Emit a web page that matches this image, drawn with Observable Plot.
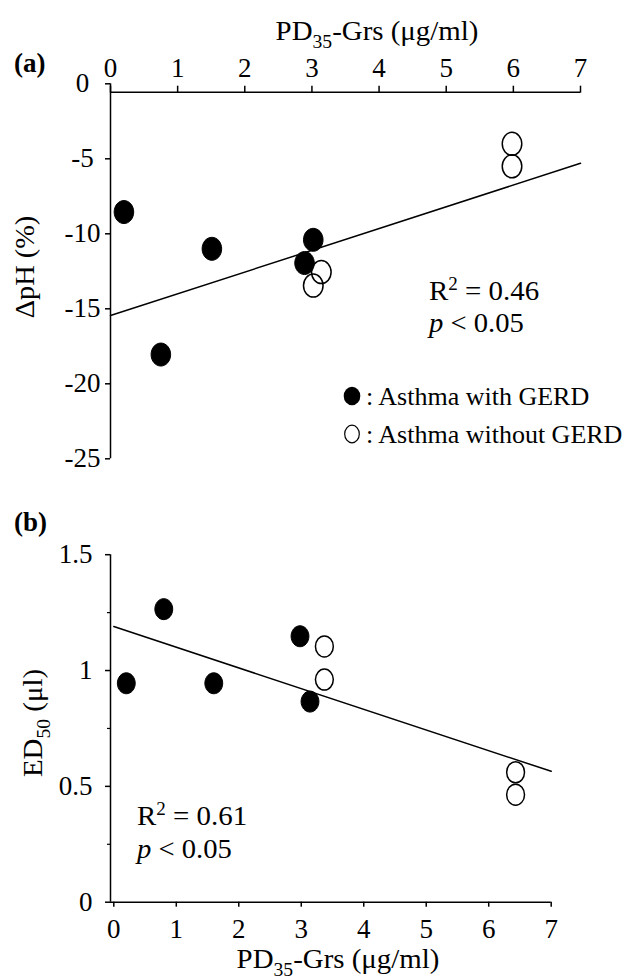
<!DOCTYPE html>
<html><head><meta charset="utf-8">
<script src="https://cdn.jsdelivr.net/npm/d3@7"></script>
<script src="https://cdn.jsdelivr.net/npm/@observablehq/plot@0.6"></script>
<style>
html,body{margin:0;padding:0;background:#fff;}
#chart{width:627px;height:978px;}
#chart svg{display:block;}
</style></head><body><div id="chart"></div>
<script>
// ---------- data ----------
const xTicks = [0, 1, 2, 3, 4, 5, 6, 7];
// Panel (a): ΔpH (%) vs PD35-Grs
const aWithX = [0.2, 0.75, 1.51, 2.89, 3.02];
const aWithY = [-8.55, -18.05, -11.0, -11.95, -10.4];
const aWithoutX = [3.02, 3.14, 5.98, 5.98];
const aWithoutY = [-13.45, -12.55, -5.5, -4.0];
const aFitX = [0, 7];
const aFitY = [-15.45, -5.3];
const aYTicks = [0, -5, -10, -15, -20, -25];
const aStats = ["0.46", "0.05"];
// Panel (b): ED50 (µl) vs PD35-Grs
const bWithX = [0.2, 0.8, 1.6, 2.98, 3.14];
const bWithY = [0.945, 1.265, 0.945, 1.148, 0.866];
const bWithoutX = [3.37, 3.37, 6.43, 6.43];
const bWithoutY = [1.104, 0.961, 0.561, 0.464];
const bFitX = [0, 7];
const bFitY = [1.19, 0.565];
const bYTicks = [0, 0.5, 1, 1.5];
const bYMinorTicks = [0.25, 0.75, 1.25];
const bStats = ["0.61", "0.05"];
const legendLabels = [": Asthma with GERD", ": Asthma without GERD"];

// ---------- helpers ----------
const FONT = "'Liberation Serif','Times New Roman',serif";
const pts = (xs, ys) => xs.map((x, i) => ({x, y: ys[i]}));
const fmt = d => String(d);
// vertically elongated ellipse symbol
const ellipse = {
  draw(ctx, size) {
    const r = Math.sqrt(size / Math.PI), rx = r * 0.85, ry = r;
    const kx = rx * 0.5523, ky = ry * 0.5523;
    ctx.moveTo(rx, 0);
    ctx.bezierCurveTo(rx, ky, kx, ry, 0, ry);
    ctx.bezierCurveTo(-kx, ry, -rx, ky, -rx, 0);
    ctx.bezierCurveTo(-rx, -ky, -kx, -ry, 0, -ry);
    ctx.bezierCurveTo(kx, -ry, rx, -ky, rx, 0);
    ctx.closePath();
  }
};
function richText(svg, {x, y, rotate = 0, anchor = "start", size = 27, weight = "normal", sx = 1, parts}) {
  const t = d3.select(svg).append("text")
    .attr("transform", `translate(${x},${y}) rotate(${rotate}) scale(${sx},1)`)
    .attr("text-anchor", anchor).attr("font-family", FONT)
    .attr("font-size", size).attr("font-weight", weight).attr("fill", "#000");
  let shift = 0;
  for (const [s, kind] of parts) {
    const ts = t.append("tspan").text(s);
    let target = 0;
    if (kind === "sub") { ts.attr("font-size", size * 0.68); target = size * 0.28; }
    else if (kind === "sup") { ts.attr("font-size", size * 0.66); target = -size * 0.36; }
    else if (kind === "italic") { ts.attr("font-style", "italic"); }
    if (target !== shift) { ts.attr("dy", target - shift); shift = target; }
  }
  return t;
}
const style = {fontFamily: FONT, fontSize: "27px", color: "black", background: "white", overflow: "visible"};

// ---------- panel (a) ----------
const plotA = Plot.plot({
  width: 627, height: 490,
  marginLeft: 110, marginRight: 47, marginTop: 83.3, marginBottom: 31.7,
  x: {domain: [0, 7]}, y: {domain: [-25, 0]},
  style,
  marks: [
    Plot.ruleY([0], {dy: 8.4, strokeWidth: 1.5}),
    Plot.ruleX([0], {strokeWidth: 1.5}),
    Plot.axisX({anchor: "top", ticks: xTicks, tickSize: 7, tickPadding: 8.5, dy: 8.4, tickFormat: fmt, label: null, strokeWidth: 1.5}),
    Plot.axisY({anchor: "left", ticks: aYTicks, tickSize: 5, tickPadding: 23, textAnchor: "middle", tickFormat: fmt, label: null, strokeWidth: 1.5}),
    Plot.line(pts(aFitX, aFitY), {x: "x", y: "y", stroke: "black", strokeWidth: 1.5}),
    Plot.dot(pts(aWithX, aWithY), {x: "x", y: "y", r: 11.5, symbol: ellipse, fill: "black", stroke: "black", strokeWidth: 1}),
    Plot.dot(pts(aWithoutX, aWithoutY), {x: "x", y: "y", r: 11.5, symbol: ellipse, fill: "none", stroke: "black", strokeWidth: 1.5})
  ]
});
document.getElementById("chart").append(plotA);
richText(plotA, {x: 14, y: 72, size: 27, weight: "bold", parts: [["(a)"]]});
richText(plotA, {x: 377, y: 40, sx: 1.07, anchor: "middle", parts: [["PD"], ["35", "sub"], ["-Grs (μg/ml)"]]});
richText(plotA, {x: 34, y: 267, sx: 1.05, anchor: "middle", rotate: -90, parts: [["ΔpH (%)"]]});
richText(plotA, {x: 429, y: 300, sx: 1.07, parts: [["R"], ["2", "sup"], [" = " + aStats[0]]]});
richText(plotA, {x: 429, y: 332, sx: 1.06, parts: [["p", "italic"], [" < " + aStats[1]]]});
// legend
const lg = d3.select(plotA);
lg.append("ellipse").attr("cx", 352).attr("cy", 396).attr("rx", 8.3).attr("ry", 9.3).attr("fill", "black");
lg.append("ellipse").attr("cx", 352).attr("cy", 434).attr("rx", 7.3).attr("ry", 8.8).attr("fill", "none").attr("stroke", "black").attr("stroke-width", 1.2);
richText(plotA, {x: 366, y: 405, size: 26, parts: [[legendLabels[0]]]});
richText(plotA, {x: 366, y: 443, size: 26, parts: [[legendLabels[1]]]});

// ---------- panel (b) ----------
const plotB = Plot.plot({
  width: 627, height: 488,
  marginLeft: 113.3, marginRight: 76.3, marginTop: 64.2, marginBottom: 76.3,
  x: {domain: [0, 7]}, y: {domain: [0, 1.5]},
  style,
  marks: [
    Plot.ruleY([0], {insetLeft: -3.3, strokeWidth: 1.5}),
    Plot.ruleX([0], {dx: -3.3, strokeWidth: 1.5}),
    Plot.axisX({anchor: "bottom", ticks: xTicks, tickSize: 5, tickPadding: 12, tickFormat: fmt, label: null, strokeWidth: 1.5}),
    Plot.axisY({anchor: "left", ticks: bYTicks, tickSize: 5, tickPadding: 13, dx: -3.3, tickFormat: fmt, label: null, strokeWidth: 1.5}),
    Plot.axisY({anchor: "left", ticks: bYMinorTicks, tickSize: 3, dx: -3.3, fill: "none", label: null, strokeWidth: 1.2}),
    Plot.line(pts(bFitX, bFitY), {x: "x", y: "y", stroke: "black", strokeWidth: 1.5}),
    Plot.dot(pts(bWithX, bWithY), {x: "x", y: "y", r: 10.5, symbol: ellipse, fill: "black", stroke: "black", strokeWidth: 1}),
    Plot.dot(pts(bWithoutX, bWithoutY), {x: "x", y: "y", r: 10.5, symbol: ellipse, fill: "none", stroke: "black", strokeWidth: 1.5})
  ]
});
document.getElementById("chart").append(plotB);
richText(plotB, {x: 14, y: 41, size: 27, weight: "bold", parts: [["(b)"]]});
richText(plotB, {x: 42, y: 233, sx: 1.07, anchor: "middle", rotate: -90, parts: [["ED"], ["50", "sub"], [" (μl)"]]});
richText(plotB, {x: 137, y: 335, sx: 1.07, parts: [["R"], ["2", "sup"], [" = " + bStats[0]]]});
richText(plotB, {x: 137, y: 368, sx: 1.06, parts: [["p", "italic"], [" < " + bStats[1]]]});
richText(plotB, {x: 338, y: 478, sx: 1.07, anchor: "middle", parts: [["PD"], ["35", "sub"], ["-Grs (μg/ml)"]]});
</script>
</body></html>
